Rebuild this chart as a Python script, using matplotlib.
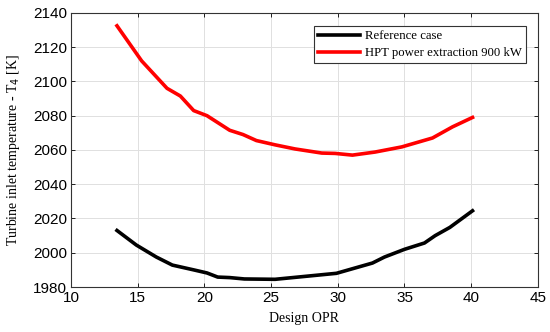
import matplotlib.pyplot as plt
import numpy as np

# Design OPR vs turbine inlet temperature
opr_ref = [13.45, 14.9, 16.4, 17.6, 19.2, 20.2, 21.0, 21.9, 23.0, 25.3, 27.8, 29.9, 32.6, 33.5, 35.0, 36.5, 37.3, 38.4, 40.1]
t4_ref = [2013.0, 2004.5, 1997.5, 1992.8, 1990.0, 1988.2, 1985.8, 1985.5, 1984.7, 1984.5, 1986.4, 1988.0, 1994.0, 1997.5, 2002.0, 2005.7, 2010.0, 2014.8, 2024.5]

opr_hpt = [13.45, 15.3, 17.2, 18.2, 19.2, 20.2, 21.9, 22.9, 23.9, 25.3, 26.8, 28.8, 29.8, 31.1, 32.8, 34.8, 37.1, 38.6, 40.1]
t4_hpt = [2132.5, 2112.0, 2096.0, 2091.5, 2083.0, 2080.0, 2071.5, 2069.0, 2065.5, 2063.0, 2060.6, 2058.2, 2058.0, 2057.0, 2058.8, 2061.8, 2067.0, 2073.5, 2079.0]

xticks = [10, 15, 20, 25, 30, 35, 40, 45]
yticks = [1980, 2000, 2020, 2040, 2060, 2080, 2100, 2120, 2140]

fig = plt.figure(figsize=(5.5, 3.32), dpi=100)
ax = fig.add_axes([0.129, 0.1355, 0.849, 0.8255])

ax.plot(opr_ref, t4_ref, color='black', lw=2.6, label='Reference case')
ax.plot(opr_hpt, t4_hpt, color='#ff0000', lw=2.6, label='HPT power extraction 900 kW')

ax.set_xlim(10, 45)
ax.set_ylim(1980, 2140)
ax.set_xticks(xticks)
ax.set_yticks(yticks)
ax.grid(True, color='#e0e0e0', lw=0.7)
ax.tick_params(direction='in', top=True, right=True, length=3, width=0.6, labelsize=11, pad=3)
for lab in ax.get_xticklabels() + ax.get_yticklabels():
    lab.set_family('Liberation Sans')
for sp in ax.spines.values():
    sp.set_linewidth(0.8)
    sp.set_color('#333333')

serif = 'Liberation Serif'
ax.set_xlabel('Design OPR', family=serif, fontsize=10, labelpad=5)
ax.set_ylabel('Turbine inlet temperature - T$_4$ [K]', family=serif, fontsize=10, labelpad=8)

leg = ax.legend(loc='upper right', bbox_to_anchor=(0.988, 0.975), prop={'family': serif, 'size': 9.2},
                fancybox=False, framealpha=1, edgecolor='#333333', handlelength=3.3,
                borderpad=0.3, labelspacing=0.4, handletextpad=0.4)
leg.get_frame().set_linewidth(0.8)

fig.savefig('out.png', dpi=100)
